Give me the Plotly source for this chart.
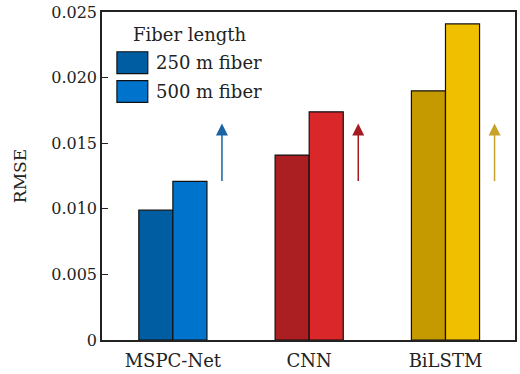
import plotly.graph_objects as go

categories = ["MSPC-Net", "CNN", "BiLSTM"]
rmse_250 = [0.0099, 0.0141, 0.0190]
rmse_500 = [0.0121, 0.0174, 0.0241]
colors_250 = ["#005da2", "#ab1f22", "#c49a00"]
colors_500 = ["#0073cd", "#d9272a", "#f0c000"]
arrow_colors = ["#1a64a3", "#a31c24", "#c9a22c"]
arrow_from = [0.0120, 0.0120, 0.0120]
arrow_to = [0.0165, 0.0165, 0.0165]
series_names = ["250 m fiber", "500 m fiber"]
legend_title = "Fiber length"
yticks = [0, 0.005, 0.010, 0.015, 0.020, 0.025]
yticklabels = ["0", "0.005", "0.010", "0.015", "0.020", "0.025"]

FONT = "'DejaVu Serif', serif"
xs = list(range(len(categories)))

fig = go.Figure()
fig.add_trace(go.Bar(x=xs, y=rmse_250, name=series_names[0], marker=dict(color=colors_250, line=dict(color="#111", width=1.2)), showlegend=False))
fig.add_trace(go.Bar(x=xs, y=rmse_500, name=series_names[1], marker=dict(color=colors_500, line=dict(color="#111", width=1.2)), showlegend=False))

for i in xs:
    fig.add_annotation(x=i + 0.36, y=arrow_to[i], ax=i + 0.36, ay=arrow_from[i],
                       xref="x", yref="y", axref="x", ayref="y", text="",
                       showarrow=True, arrowhead=2, arrowsize=1.6, arrowwidth=1.5,
                       arrowcolor=arrow_colors[i])

# manual legend (box-shaped swatches)
fig.add_annotation(xref="paper", yref="paper",
                   x=(190 - 102) / 415, y=(340 - 33) / 330,
                   text=legend_title, showarrow=False,
                   xanchor="center", yanchor="middle",
                   font=dict(family=FONT, size=18, color="#222"))
legend_swatches = [colors_250[0], colors_500[0]]
for k, (nm, col) in enumerate(zip(series_names, legend_swatches)):
    yc = 61 + k * 29
    fig.add_shape(type="rect", xref="paper", yref="paper",
                  x0=(117 - 102) / 415, x1=(148 - 102) / 415,
                  y0=(340 - (yc + 11)) / 330, y1=(340 - (yc - 11)) / 330,
                  fillcolor=col, line=dict(color="#111", width=1.2))
    fig.add_annotation(xref="paper", yref="paper", x=(154 - 102) / 415, y=(340 - yc) / 330,
                       text=nm, showarrow=False, xanchor="left", yanchor="middle",
                       font=dict(family=FONT, size=18, color="#222"))

fig.update_layout(
    width=520, height=374,
    margin=dict(l=102, r=3, t=10, b=34),
    plot_bgcolor="white", paper_bgcolor="white",
    barmode="group", bargap=0.5, bargroupgap=0,
    font=dict(family=FONT, size=16, color="#222"),
    showlegend=False,
)
fig.update_xaxes(range=[-0.52, 2.51], tickvals=xs, ticktext=categories,
                 showline=True, linecolor="#222", linewidth=1.5, mirror=True,
                 ticks="", showgrid=False, zeroline=False, ticklabelstandoff=4,
                 tickfont=dict(family=FONT, size=18, color="#222"))
fig.update_yaxes(range=[0, 0.02501], tickvals=yticks, ticktext=yticklabels,
                 showline=True, linecolor="#222", linewidth=1.5, mirror=True,
                 ticks="inside", ticklen=6, tickwidth=1.2, tickcolor="#222",
                 showgrid=False, zeroline=False,
                 title=dict(text="RMSE", font=dict(family=FONT, size=17, color="#222"), standoff=20),
                 tickfont=dict(family=FONT, size=16, color="#222"))

fig.write_html("out.html")
